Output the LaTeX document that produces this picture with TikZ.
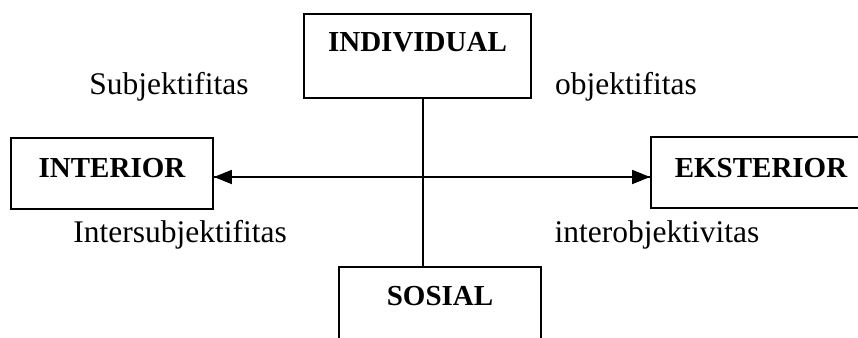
\documentclass[tikz,border=0pt]{standalone}
\usepackage{fontspec}
\setmainfont{Liberation Serif}
\usetikzlibrary{arrows.meta}
\begin{document}
\begin{tikzpicture}[x=1pt,y=-1pt,
  box/.style={draw, line width=1.8pt, rectangle, inner sep=0pt},
  btext/.style={font=\fontsize{29}{34}\selectfont\bfseries, anchor=base, inner sep=0pt},
  ltext/.style={font=\fontsize{31.5}{36}\selectfont, anchor=base, inner sep=0pt},
  conn/.style={line width=1.8pt},
  tip/.style={-{Triangle[length=18pt,width=14pt]}}
]
\useasboundingbox (0,0) rectangle (858,337);
% boxes
\node[box, minimum width=227pt, minimum height=84pt] (ind) at (417.5,56) {};
\node[box, minimum width=202pt, minimum height=71pt] (intr) at (112,173.5) {};
\node[box, minimum width=240pt, minimum height=71pt] (ekst) at (771,172.5) {};
\node[box, minimum width=202pt, minimum height=120pt] (sos) at (440,327) {};
% box texts
\node[btext] (tind) at (417.5,52) {INDIVIDUAL};
\node[btext] (tintr) at (112,177) {INTERIOR};
\node[btext] (tekst) at (761,177) {EKSTERIOR};
\node[btext] (tsos) at (440,305) {SOSIAL};
% labels
\node[ltext] (l1) at (169,94) {Subjektifitas};
\node[ltext] (l2) at (626,94) {objektifitas};
\node[ltext] (l3) at (180,242) {Intersubjektifitas};
\node[ltext] (l4) at (657,242) {interobjektivitas};
% connectors
\draw[conn] ([xshift=5.5pt]ind.south) -- ([xshift=5.5pt]ind.south |- sos.north);
\draw[conn, tip] ([yshift=-3.5pt]intr.east) -- ([yshift=-4.5pt]ekst.west);
\draw[conn, tip] ([yshift=-4.5pt]ekst.west) -- ([yshift=-3.5pt]intr.east);
\end{tikzpicture}
\end{document}
